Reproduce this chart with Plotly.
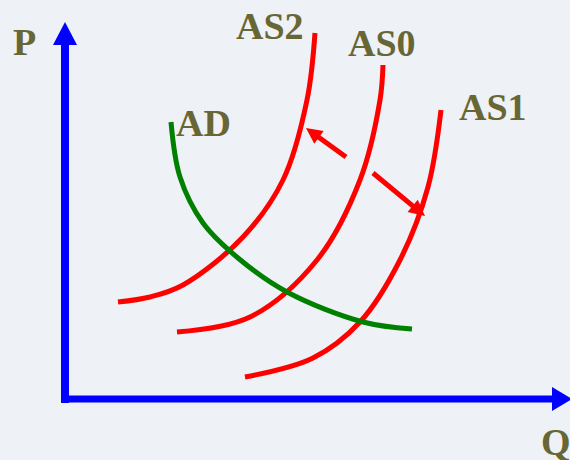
import plotly.graph_objects as go

# krivės (Q, P) - vienetai ~ pikseliai nuo koordinačių pradžios
as2_q = [53, 85, 118, 178, 218, 242, 250]
as2_p = [97, 102, 114, 162, 219, 299, 366]

as0_q = [112, 185, 252, 295, 315, 318]
as0_p = [67, 82, 139, 219, 299, 334]

as1_q = [180, 248, 295, 335, 363, 376]
as1_p = [22, 41, 77, 139, 212, 289]

ad_q = [106, 115, 138, 173, 222, 298, 347]
ad_p = [277, 222, 176, 141, 107, 77, 70]

# poslinkio rodyklės: (uodega, smaigalys)
shift_left = [(281, 242), (241, 271)]
shift_right = [(308, 226), (360, 183)]

# ašių galai
q_axis_end = 507
p_axis_end = 377

labels = ["AS2", "AS0", "AS1", "AD", "P", "Q"]
label_q = [205, 317, 428, 138, -41, 491]
label_p = [373, 356, 292, 276, 357, -43]

RED = "#ff0000"
GREEN = "#008000"
BLUE = "#0000ff"
OLIVE = "#686634"


def arrow(fig, tail, tip, color, lw, head_len, head_w):
    x0, y0 = tail
    x1, y1 = tip
    d = ((x1 - x0) ** 2 + (y1 - y0) ** 2) ** 0.5
    ux, uy = (x1 - x0) / d, (y1 - y0) / d
    bx, by = x1 - ux * head_len, y1 - uy * head_len
    nx, ny = -uy, ux
    fig.add_trace(go.Scatter(x=[x0, bx + ux * 2], y=[y0, by + uy * 2], mode="lines",
                             line=dict(color=color, width=lw), hoverinfo="skip"))
    fig.add_trace(go.Scatter(
        x=[x1, bx + nx * head_w / 2, bx - nx * head_w / 2, x1],
        y=[y1, by + ny * head_w / 2, by - ny * head_w / 2, y1],
        mode="lines", fill="toself", fillcolor=color,
        line=dict(color=color, width=0), hoverinfo="skip"))


fig = go.Figure()

# ašys
arrow(fig, (-4, 0), (q_axis_end, 0), BLUE, 7, 20, 24)
arrow(fig, (0, -4), (0, p_axis_end), BLUE, 8, 23, 24)

for q, p, c in [(as2_q, as2_p, RED), (as0_q, as0_p, RED), (as1_q, as1_p, RED), (ad_q, ad_p, GREEN)]:
    fig.add_trace(go.Scatter(x=q, y=p, mode="lines",
                             line=dict(color=c, width=5, shape="spline")))

arrow(fig, shift_left[0], shift_left[1], RED, 5, 16, 16)
arrow(fig, shift_right[0], shift_right[1], RED, 5, 16, 16)

for t, x, y in zip(labels, label_q, label_p):
    fig.add_annotation(x=x, y=y, text=t, showarrow=False, xref="x", yref="y",
                       font=dict(family="Liberation Serif", size=38, color=OLIVE, weight="bold"))

fig.update_layout(
    width=570, height=460,
    margin=dict(l=0, r=0, t=0, b=0),
    paper_bgcolor="#eef1f5", plot_bgcolor="#eef1f5",
    showlegend=False,
    xaxis=dict(range=[-65, 505], visible=False, fixedrange=True),
    yaxis=dict(range=[-61, 399], visible=False, fixedrange=True),
)

fig.write_html("out.html", config={"displayModeBar": False},
               post_script="document.body.style.margin='0px';")
